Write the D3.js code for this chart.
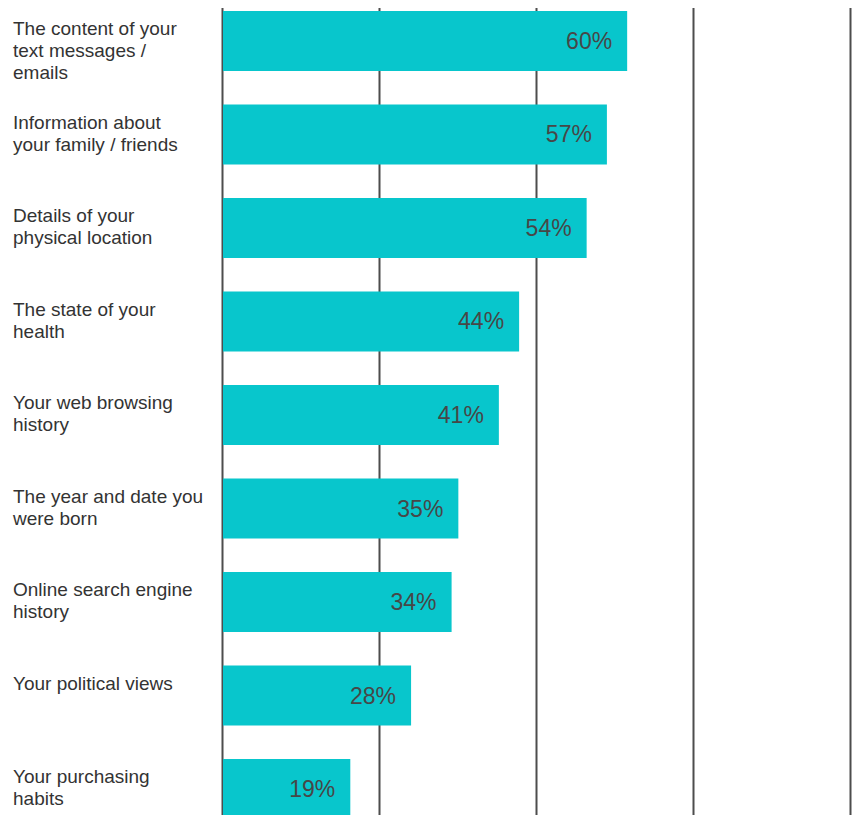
<!DOCTYPE html>
<html>
<head>
<meta charset="utf-8">
<script src="https://cdn.jsdelivr.net/npm/d3@7"></script>
<style>
  html, body { margin: 0; padding: 0; background: #fff; }
  svg { display: block; }
  .cat { font-family: "Liberation Sans", Arial, sans-serif; font-size: 19px; fill: #333; }
  .val { font-family: "Liberation Sans", Arial, sans-serif; font-size: 23px; fill: #474747; }
</style>
</head>
<body>
<svg id="chart" width="859" height="815"></svg>
<script>
// Categories (line breaks mark where each label wraps)
const categories = [
  "The content of your\ntext messages /\nemails",
  "Information about\nyour family / friends",
  "Details of your\nphysical location",
  "The state of your\nhealth",
  "Your web browsing\nhistory",
  "The year and date you\nwere born",
  "Online search engine\nhistory",
  "Your political views",
  "Your purchasing\nhabits"
];
// Share of respondents, in percent
const values = [60, 57, 54, 44, 41, 35, 34, 28, 19];
const valueLabels = ["60%", "57%", "54%", "44%", "41%", "35%", "34%", "28%", "19%"];

const svg = d3.select("#chart");

const x = d3.scaleLinear().domain([0, 93]).range([222, 850]);
const y = d3.scaleBand()
  .domain(categories)
  .range([11, 819])
  .paddingInner(0.3583)
  .paddingOuter(0);

// Vertical grid lines at quarters of the scale
const gridTicks = d3.range(0, 5).map(i => x.domain()[1] * i / 4);
const grid = svg.append("g")
  .call(d3.axisTop(x).tickValues(gridTicks).tickSize(-820).tickFormat(""));
grid.select(".domain").remove();
grid.selectAll(".tick line")
  .attr("stroke", "#4d4d4d")
  .attr("stroke-width", 2)
  .attr("y1", 8);

// Bars
svg.append("g").selectAll("rect")
  .data(values)
  .join("rect")
  .attr("x", x(0) + 1)
  .attr("y", (d, i) => y(categories[i]))
  .attr("width", d => x(d) - x(0) - 1)
  .attr("height", y.bandwidth())
  .attr("fill", "#08c6cc");

// Value labels inside the bar ends
svg.append("g").selectAll("text")
  .data(values)
  .join("text")
  .attr("class", "val")
  .attr("x", d => x(d) - 15)
  .attr("y", (d, i) => y(categories[i]) + y.bandwidth() / 2 + 8)
  .attr("text-anchor", "end")
  .text((d, i) => valueLabels[i]);

// Category labels, top-aligned with each bar
const cats = svg.append("g").selectAll("text")
  .data(categories)
  .join("text")
  .attr("class", "cat")
  .attr("x", 13)
  .attr("y", d => y(d) + 24);
cats.each(function(d) {
  const lines = d.split("\n");
  d3.select(this).selectAll("tspan")
    .data(lines)
    .join("tspan")
    .attr("x", 13)
    .attr("dy", (l, i) => i === 0 ? 0 : 22)
    .text(l => l);
});
</script>
</body>
</html>
